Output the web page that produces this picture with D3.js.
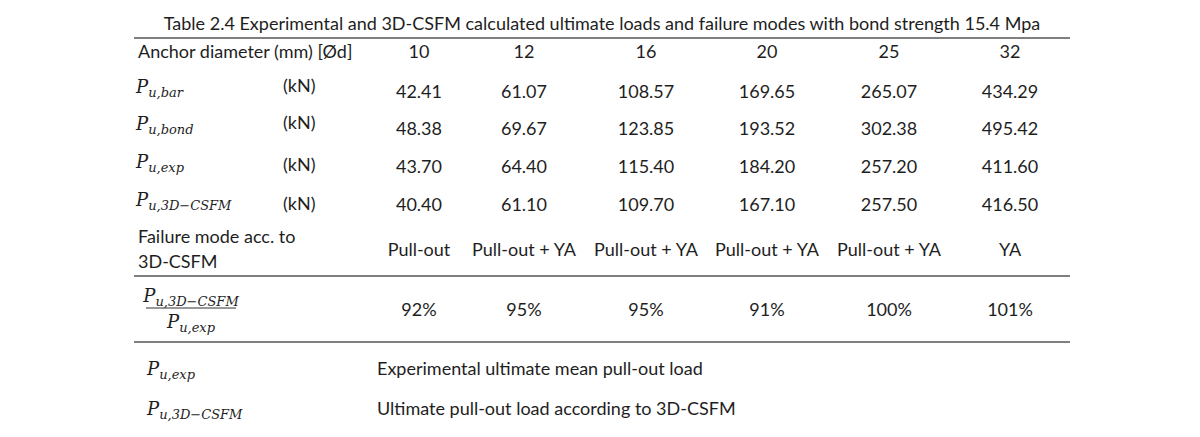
<!DOCTYPE html>
<html>
<head>
<meta charset="utf-8">
<script src="https://cdn.jsdelivr.net/npm/d3@7"></script>
<style>
  body { margin: 0; background: #fff; }
  svg text { fill: #1e1e1e; }
</style>
</head>
<body>
<svg id="chart" width="1200" height="437"></svg>
<script>
// table data
const title = "Table 2.4 Experimental and 3D-CSFM calculated ultimate loads and failure modes with bond strength 15.4 Mpa";
const diameters = [10, 12, 16, 20, 25, 32];
const pBar = ["42.41", "61.07", "108.57", "169.65", "265.07", "434.29"];
const pBond = ["48.38", "69.67", "123.85", "193.52", "302.38", "495.42"];
const pExp = ["43.70", "64.40", "115.40", "184.20", "257.20", "411.60"];
const p3d = ["40.40", "61.10", "109.70", "167.10", "257.50", "416.50"];
const failureModes = ["Pull-out", "Pull-out + YA", "Pull-out + YA", "Pull-out + YA", "Pull-out + YA", "YA"];
const ratios = ["92%", "95%", "95%", "91%", "100%", "101%"];

const SANS = "Lato, 'Open Sans', sans-serif";
const SERIF = "'DejaVu Serif', 'Liberation Serif', serif";
const SUB_3D = "u,3D\u2212CSFM";

const svg = d3.select("#chart");

// column centres (first column is narrower in the source)
const colX = d3.scaleOrdinal()
  .domain(diameters)
  .range([419, 524, 646, 767, 889, 1010]);

// row baselines
const rowY = d3.scaleOrdinal()
  .domain(["header", "bar", "bond", "exp", "3d", "fail", "ratio"])
  .range([58, 98, 135, 173, 211, 256, 316]);

const text = function(x, y, str, anchor) {
  return svg.append("text")
    .attr("x", x).attr("y", y)
    .attr("text-anchor", anchor || "start")
    .style("font-family", SANS)
    .style("font-size", "18px")
    .text(str);
};

// math-like label: P with italic subscript
const pLabel = function(x, y, sub, anchor) {
  const t = svg.append("text")
    .attr("x", x).attr("y", y)
    .attr("text-anchor", anchor || "start")
    .style("font-family", SERIF)
    .style("font-style", "italic");
  t.append("tspan").style("font-size", "18px").text("P");
  t.append("tspan").style("font-size", "13px").attr("dy", 4).text(sub);
  return t;
};

// title
text(602, 30, title, "middle");

// rules
const rules = [38, 276, 342];
svg.selectAll("line.rule")
  .data(rules)
  .join("line")
  .attr("class", "rule")
  .attr("x1", 134).attr("x2", 1070)
  .attr("y1", d => d).attr("y2", d => d)
  .attr("stroke", "#555")
  .attr("stroke-width", 1.6);

// header row
text(138, rowY("header"), "Anchor diameter (mm) [\u00d8d]");
svg.selectAll("text.dia")
  .data(diameters)
  .join("text")
  .attr("class", "dia")
  .attr("x", d => colX(d))
  .attr("y", rowY("header"))
  .attr("text-anchor", "middle")
  .style("font-family", SANS)
  .style("font-size", "18px")
  .text(d => d);

// load rows
const loadRows = [
  {key: "bar", sub: "u,bar", values: pBar, kn: -6},
  {key: "bond", sub: "u,bond", values: pBond, kn: -6},
  {key: "exp", sub: "u,exp", values: pExp, kn: -2},
  {key: "3d", sub: SUB_3D, values: p3d, kn: -1}
];

loadRows.forEach(function(row) {
  const y = rowY(row.key);
  pLabel(136, y - 5, row.sub);
  text(283, y + row.kn, "(kN)");
  svg.selectAll("text.v-" + row.key)
    .data(row.values)
    .join("text")
    .attr("class", "v-" + row.key)
    .attr("x", (d, i) => colX(diameters[i]))
    .attr("y", y)
    .attr("text-anchor", "middle")
    .style("font-family", SANS)
    .style("font-size", "18px")
    .text(d => d);
});

// failure mode row
text(138, rowY("fail") - 13, "Failure mode acc. to");
text(138, rowY("fail") + 12, "3D-CSFM");
svg.selectAll("text.fail")
  .data(failureModes)
  .join("text")
  .attr("class", "fail")
  .attr("x", (d, i) => colX(diameters[i]))
  .attr("y", rowY("fail"))
  .attr("text-anchor", "middle")
  .style("font-family", SANS)
  .style("font-size", "18px")
  .text(d => d);

// ratio row with fraction label
pLabel(191, rowY("ratio") - 14, SUB_3D, "middle");
svg.append("line")
  .attr("x1", 146).attr("x2", 236)
  .attr("y1", rowY("ratio") - 8).attr("y2", rowY("ratio") - 8)
  .attr("stroke", "#333").attr("stroke-width", 1.2);
pLabel(191, rowY("ratio") + 12, "u,exp", "middle");
svg.selectAll("text.ratio")
  .data(ratios)
  .join("text")
  .attr("class", "ratio")
  .attr("x", (d, i) => colX(diameters[i]))
  .attr("y", rowY("ratio"))
  .attr("text-anchor", "middle")
  .style("font-family", SANS)
  .style("font-size", "18px")
  .text(d => d);

// footnotes
pLabel(147, 375, "u,exp");
text(377, 375, "Experimental ultimate mean pull-out load");
pLabel(147, 415, SUB_3D);
text(377, 415, "Ultimate pull-out load according to 3D-CSFM");
</script>
</body>
</html>
